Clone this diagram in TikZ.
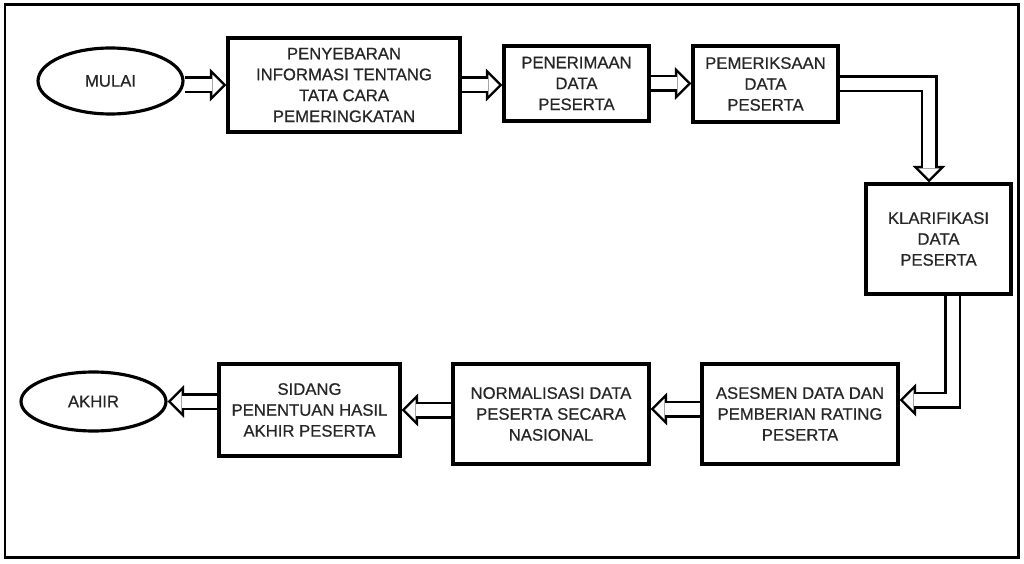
\documentclass[tikz,border=0pt]{standalone}
\usepackage{fontspec}
\setmainfont{Liberation Sans}[FakeBold=0.6]
\usepackage{tikz}
\usetikzlibrary{arrows.meta,%
                shapes.geometric}

\tikzset{
  BoxStyle/.style = {draw=black,line width=1.8pt,fill=white,shape=rectangle,
                     inner sep=0pt,align=center,text=black!85,
                     font=\fontsize{9.5}{11.9}\selectfont},
  EndStyle/.style = {BoxStyle,shape=ellipse},
  FlowStyle/.style = {draw=black,line width=0.34cm,
                      -{Triangle[length=0.33cm,width=0.66cm,line width=0pt]},
                      postaction={draw=white,line width=0.24cm,shorten >=0.071cm,
                      -{Triangle[length=0.209cm,width=0.418cm,line width=0pt]}}}
}

\begin{document}
\begin{tikzpicture}[x=0.02cm,y=-0.02cm]
		\useasboundingbox (0,0) rectangle (1024,564);
		\draw[line width=0.06cm] (5,5) rectangle (1018,557);
		%\draw[help lines] (0,0) grid (1024,564);
		\node[EndStyle,minimum width=2.9cm,minimum height=1.32cm] (mulai) at (110.5,81) {MULAI};
		\node[BoxStyle,minimum width=4.64cm,minimum height=1.88cm] (sebar) at (344,85)
			{PENYEBARAN\\INFORMASI TENTANG\\TATA CARA\\PEMERINGKATAN};
		\node[BoxStyle,minimum width=2.9cm,minimum height=1.5cm] (terima) at (576.5,83.5)
			{PENERIMAAN\\DATA\\PESERTA};
		\node[BoxStyle,minimum width=2.9cm,minimum height=1.52cm] (periksa) at (765.5,84)
			{PEMERIKSAAN\\DATA\\PESERTA};
		\node[BoxStyle,minimum width=2.9cm,minimum height=2.2cm] (klarif) at (938.5,239)
			{KLARIFIKASI\\DATA\\PESERTA};
		\node[BoxStyle,minimum width=3.92cm,minimum height=2cm] (asesmen) at (800,414)
			{ASESMEN DATA DAN\\PEMBERIAN RATING\\PESERTA};
		\node[BoxStyle,minimum width=3.92cm,minimum height=2cm] (normal) at (551,414)
			{NORMALISASI DATA\\PESERTA SECARA\\NASIONAL};
		\node[BoxStyle,minimum width=3.62cm,minimum height=1.84cm] (sidang) at (309.5,410)
			{SIDANG\\PENENTUAN HASIL\\AKHIR PESERTA};
		\node[EndStyle,minimum width=2.9cm,minimum height=1.18cm] (akhir) at (93.5,401.5) {AKHIR};
		%\tikzset{FlowStyle/.append style = {draw=darkgray}}
		\draw[FlowStyle] (sebar.west -| mulai.east) -- (sebar.west);
		\draw[FlowStyle] (sebar.east) -- (sebar.east -| terima.west);
		\draw[FlowStyle] (terima.east) -- (terima.east -| periksa.west);
		\draw[FlowStyle] (periksa.east) -| ([xshift=-0.19cm]klarif.north);
		\draw[FlowStyle] ([xshift=0.28cm]klarif.south) |- ([yshift=0.28cm]asesmen.east);
		\draw[FlowStyle] ([yshift=0.1cm]asesmen.west) -- ([yshift=0.1cm]normal.east);
		\draw[FlowStyle] (sidang.east -| normal.west) -- (sidang.east);
		\draw[FlowStyle] (sidang.west |- akhir.east) -- (akhir.east);
\end{tikzpicture}
\end{document}
